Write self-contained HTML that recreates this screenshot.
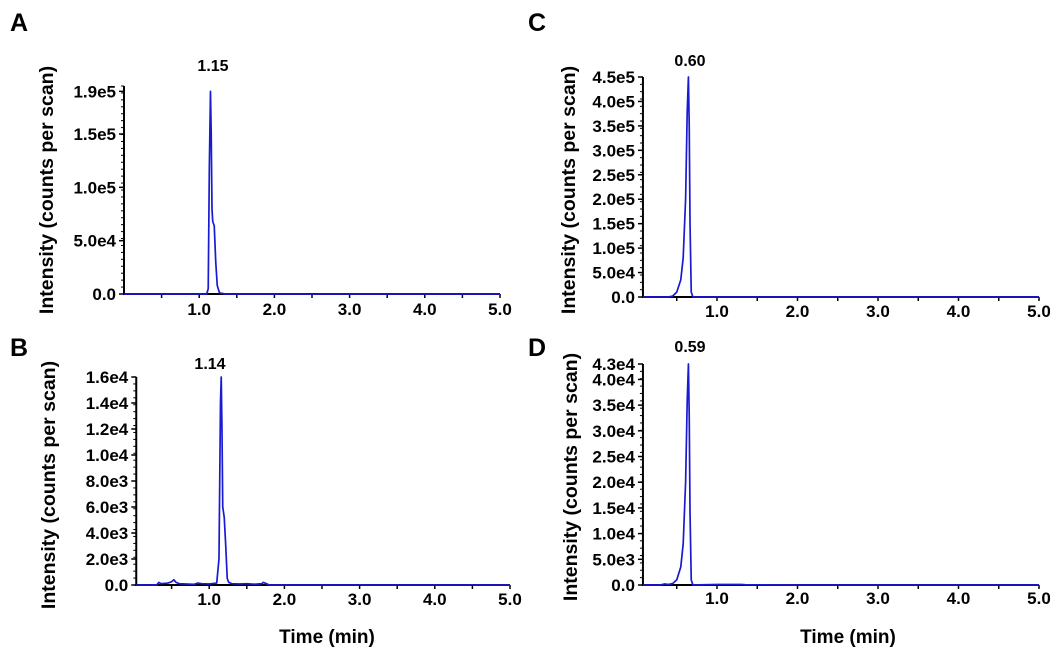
<!DOCTYPE html>
<html><head><meta charset="utf-8">
<style>
html,body{margin:0;padding:0;background:#fff;}
svg{display:block;font-family:"Liberation Sans",Arial,sans-serif;}
</style></head>
<body>
<svg id="fig" width="1050" height="658" viewBox="0 0 1050 658"></svg>
<script>
// ---- data ----
const timesA = [0.0,0.5,1.0,1.10,1.12,1.135,1.15,1.16,1.17,1.18,1.20,1.22,1.24,1.27,1.35,2.0,3.0,4.0,5.0];
const valuesA = [0,0,0,0,5000,120000,190000,150000,80000,68000,64000,30000,8000,1000,0,0,0,0,0];
const timesB = [0.03,0.3,0.33,0.36,0.45,0.5,0.53,0.56,0.6,0.8,0.85,0.9,1.0,1.1,1.13,1.15,1.16,1.17,1.18,1.20,1.22,1.24,1.26,1.3,1.4,1.5,1.6,1.7,1.72,1.76,1.8,2.0,3.0,4.0,5.0];
const valuesB = [0,0,200,100,150,250,400,200,100,50,150,100,80,150,2000,14000,16000,12000,6000,5200,3000,500,200,100,80,100,60,100,200,100,0,0,0,0,0];
const timesC = [0.08,0.4,0.45,0.5,0.55,0.58,0.61,0.63,0.645,0.655,0.665,0.68,0.7,1.0,2.0,3.0,4.0,5.0];
const valuesC = [0,0,2000,10000,35000,80000,200000,380000,450000,350000,150000,10000,0,0,0,0,0,0];
const timesD = [0.08,0.3,0.35,0.4,0.45,0.5,0.55,0.58,0.61,0.63,0.645,0.655,0.665,0.68,0.7,1.0,1.3,1.35,2.0,3.0,4.0,5.0];
const valuesD = [0,0,200,100,300,1000,3500,8000,20000,36000,43000,33000,14000,1000,0,100,100,50,0,0,0,0];
const yTicksA = [0,50000,100000,150000,190000];
const yLabelsA = ["0.0","5.0e4","1.0e5","1.5e5","1.9e5"];
const yTicksB = [0,2000,4000,6000,8000,10000,12000,14000,16000];
const yLabelsB = ["0.0","2.0e3","4.0e3","6.0e3","8.0e3","1.0e4","1.2e4","1.4e4","1.6e4"];
const yTicksC = [0,50000,100000,150000,200000,250000,300000,350000,400000,450000];
const yLabelsC = ["0.0","5.0e4","1.0e5","1.5e5","2.0e5","2.5e5","3.0e5","3.5e5","4.0e5","4.5e5"];
const yTicksD = [0,5000,10000,15000,20000,25000,30000,35000,40000,43000];
const yLabelsD = ["0.0","5.0e3","1.0e4","1.5e4","2.0e4","2.5e4","3.0e4","3.5e4","4.0e4","4.3e4"];
const xTicks = [1,2,3,4,5];
const xLabels = ["1.0","2.0","3.0","4.0","5.0"];
const peakLabels = ["1.15","1.14","0.60","0.59"];

const NS="http://www.w3.org/2000/svg";
const svg=document.getElementById('fig');
function mk(tag,attrs,parent){const e=document.createElementNS(NS,tag);for(const k in attrs)e.setAttribute(k,attrs[k]);(parent||svg).appendChild(e);return e;}

const panels=[
 {id:'a',letter:'A',lx:10,ly:31,t0px:124,ppm:75.2,tmin:0,y0:294,ymaxV:195000,ymaxPx:86,times:timesA,vals:valuesA,yt:yTicksA,yl:yLabelsA,ylx:46,yly:190,peak:peakLabels[0],pk:[213,71],xlb:315,time:false},
 {id:'b',letter:'B',lx:10,ly:356,t0px:134,ppm:75.2,tmin:0.03,y0:585,ymaxV:16000,ymaxPx:377,times:timesB,vals:valuesB,yt:yTicksB,yl:yLabelsB,ylx:48,yly:485,peak:peakLabels[1],pk:[210,369],xlb:605,time:true,tx:327},
 {id:'c',letter:'C',lx:528,ly:31,t0px:636.5,ppm:80.5,tmin:0.08,y0:297,ymaxV:450000,ymaxPx:77,times:timesC,vals:valuesC,yt:yTicksC,yl:yLabelsC,ylx:568,yly:190,peak:peakLabels[2],pk:[690,66],xlb:317,time:false},
 {id:'d',letter:'D',lx:528,ly:356,t0px:636.5,ppm:80.5,tmin:0.08,y0:585,ymaxV:43000,ymaxPx:364,times:timesD,vals:valuesD,yt:yTicksD,yl:yLabelsD,ylx:570,yly:477,peak:peakLabels[3],pk:[690,352],xlb:604,time:true,tx:848}
];

panels.forEach(p=>{
  const g=mk('g',{});
  
  
  const xOf=t=>p.t0px+t*p.ppm;
  const yOf=v=>p.y0-(v/p.ymaxV)*(p.y0-p.ymaxPx);
  const xl=xOf(p.tmin), xr=xOf(5);
  const L=mk('text',{x:p.lx,y:p.ly,'font-size':25,'font-weight':'bold',fill:'#000'},g);
  L.textContent=p.letter;
  
  
  const yt=mk('text',{x:0,y:0,'font-size':19.5,'font-weight':'bold','text-anchor':'middle',transform:`translate(${p.ylx+7},${p.yly}) rotate(-90)`},g);
  yt.textContent='Intensity (counts per scan)';
  
  
  const nMinor=30;
  for(let i=0;i<=nMinor;i++){
    const yy=p.y0-(p.y0-p.ymaxPx)*i/nMinor;
    const tk=mk('line',{x1:xl-3,x2:xl,y1:yy,y2:yy,stroke:'#000','stroke-width':1},g);
    
    
  }
  p.yt.forEach((v,i)=>{
    const yy=yOf(v);
    const tk=mk('line',{x1:xl-5,x2:xl,y1:yy,y2:yy,stroke:'#000','stroke-width':1.5},g);
    
    
    const tl=mk('text',{x:xl-8,y:yy+6,'font-size':17,'font-weight':'bold','text-anchor':'end'},g);
    tl.textContent=p.yl[i];
    
    
  });
  for(let t=0.5;t<=5.001;t+=0.5){
    const xx=xOf(t);
    const tk=mk('line',{x1:xx,x2:xx,y1:p.y0,y2:p.y0+4,stroke:'#000','stroke-width':1.5},g);
    
    
  }
  xTicks.forEach((t,i)=>{
    const tl=mk('text',{x:xOf(t),y:p.xlb,'font-size':17,'font-weight':'bold','text-anchor':'middle'},g);
    tl.textContent=xLabels[i];
    
    
  });
  const ya=mk('line',{x1:xl,x2:xl,y1:p.ymaxPx,y2:p.y0+1,stroke:'#000','stroke-width':2},g);
  
  
  const xa=mk('line',{x1:xl-1,x2:xr,y1:p.y0,y2:p.y0,stroke:'#000','stroke-width':2},g);
  
  
  const pts=p.times.map((t,i)=>xOf(t).toFixed(2)+','+yOf(p.vals[i]).toFixed(2)).join(' ');
  const line=mk('polyline',{points:pts,fill:'none',stroke:'#1a1ad0','stroke-width':1.7,'stroke-linejoin':'round'},g);
  
  
  const pl=mk('text',{x:p.pk[0],y:p.pk[1],'font-size':16,'font-weight':'bold','text-anchor':'middle'},g);
  pl.textContent=p.peak;
  
  
  if(p.time){
    const tt=mk('text',{x:p.tx,y:643,'font-size':19,'font-weight':'bold','text-anchor':'middle'},g);
    tt.textContent='Time (min)';
    
    
  }
});
</script>
</body></html>
